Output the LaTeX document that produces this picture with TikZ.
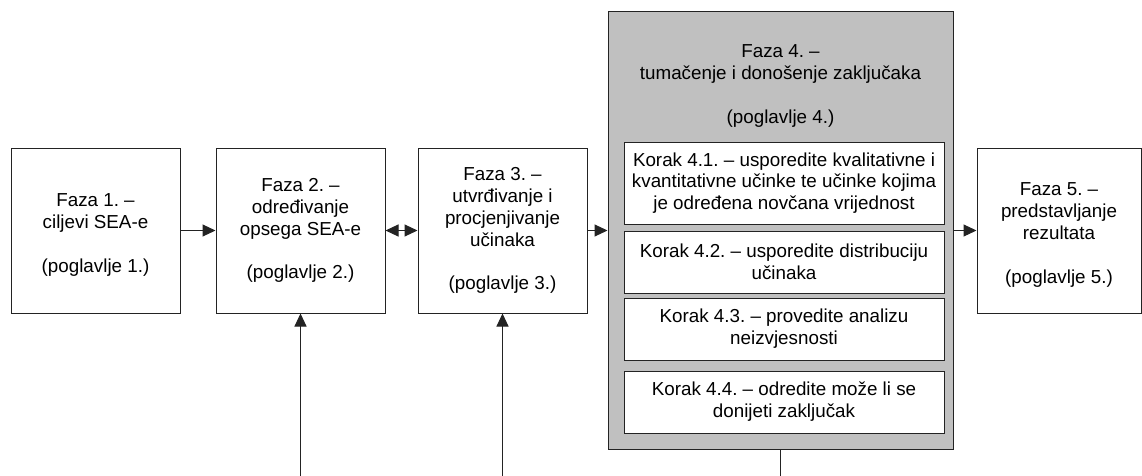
\documentclass[tikz,border=0pt]{standalone}
\usepackage{fontspec}
\setmainfont{Liberation Sans}
\usepackage{xcolor}
\usetikzlibrary{arrows.meta}
\frenchspacing

\definecolor{boxline}{RGB}{35,35,35}
\definecolor{fazagray}{RGB}{192,192,192}

\begin{document}
\begin{tikzpicture}
                \tikzset{x={(1pt, 0pt)}, y={(0pt, -1pt)}}
                \tikzset{fazabox/.style={draw=boxline, line width=1pt, fill=white, inner sep=0pt, align=center,
                                         minimum width=169pt, minimum height=165pt,
                                         font=\fontsize{18.8}{21.8}\selectfont},
                         korakbox/.style={fazabox, minimum width=320pt, minimum height=62pt},
                         strelica/.style={draw=boxline, line width=1pt, -{Triangle[length=13pt, width=12pt]}}}
                \useasboundingbox (0, 0) rectangle (1142, 476);
                \node[fazabox] (faza1) at (95.5, 230.5) {\mbox{}\\Faza 1. –\\ciljevi SEA-e\\\mbox{}\\(poglavlje 1.)};
                \node[fazabox] (faza2) at (300.5, 230.5) {Faza 2. –\\određivanje\\opsega SEA-e\\\mbox{}\\(poglavlje 2.)};
                \node[fazabox] (faza3) at (502.5, 230.5) {Faza 3. –\\utvrđivanje i\\procjenjivanje\\učinaka\\\mbox{}\\(poglavlje 3.)};
                \node[fazabox, fill=fazagray, minimum width=345pt, minimum height=437pt] (faza4) at (780.5, 230.5) {};
                \node[fazabox, fill=none, draw=none, minimum width=0pt, minimum height=0pt] (faza4naslov) at (780.5, 86) {Faza 4. –\\tumačenje i donošenje zaključaka\\\mbox{}\\(poglavlje 4.)};
                \node[fazabox, minimum width=164pt] (faza5) at (1059, 230.5) {\mbox{}\\Faza 5. –\\predstavljanje\\rezultata\\\mbox{}\\(poglavlje 5.)};
                \node[korakbox, minimum height=82pt] (korak1) at (784, 183) {Korak 4.1. – usporedite kvalitativne i\\kvantitativne učinke te učinke kojima\\je određena novčana vrijednost};
                \node[korakbox] (korak2) at (784, 262) {Korak 4.2. – usporedite distribuciju\\učinaka};
                \node[korakbox] (korak3) at (784, 329) {Korak 4.3. – provedite analizu\\neizvjesnosti};
                \node[korakbox] (korak4) at (784, 402) {Korak 4.4. – odredite može li se\\donijeti zaključak};
                \coordinate (dno2) at (300.5, 476);
                \coordinate (dno3) at (502.5, 476);
                \coordinate (dno4) at (780.5, 476);
                \draw[strelica] (faza1) -- (faza2);
                \draw[strelica, {Triangle[length=13pt, width=12pt]}-{Triangle[length=13pt, width=12pt]}] (faza2) -- (faza3);
                \draw[strelica] (faza3) -- (faza4);
                \draw[strelica] (faza4) -- (faza5);
                \draw[strelica] (dno2) -- (faza2);
                \draw[strelica] (dno3) -- (faza3);
                \draw[draw=boxline, line width=1pt] (faza4) -- (dno4);
            \end{tikzpicture}
\end{document}
